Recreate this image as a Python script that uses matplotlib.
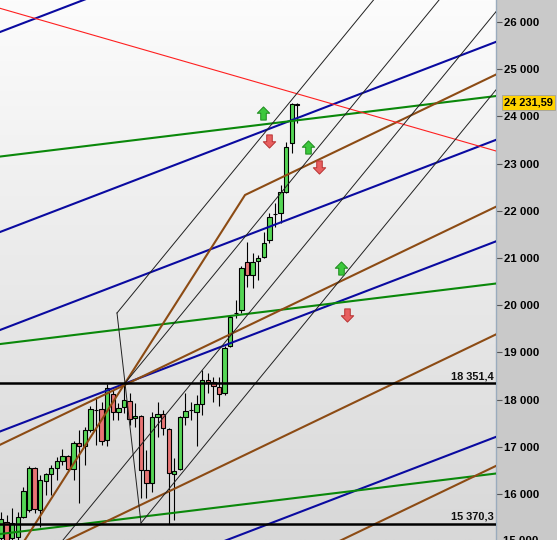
import matplotlib

matplotlib.use("Agg")

import matplotlib.pyplot as plt
import matplotlib.transforms as mtransforms
import numpy as np
from matplotlib.colors import LinearSegmentedColormap
from matplotlib.path import Path

# daily candles (index on x, price on y)
opens = [15068, 15407, 15068, 15089, 15513, 15661, 16551, 15661, 16276, 16424,
         16551, 16699, 16805, 16530, 17081, 17017, 17356, 17790, 17801, 17144,
         18119, 17737, 17843, 17970, 17610, 17653, 16509, 16233, 17631, 17695,
         17377, 16424, 16530, 17631, 17770, 17737, 17907, 18415, 18373, 18267,
         18140, 19136, 19845, 19898, 20915, 20640, 20936, 21021, 21381, 21940,
         21953, 22398, 23436, 24263]
highs = [15619, 15555, 15704, 15619, 16148, 16593, 16570, 16403, 16445, 16615,
         16784, 16954, 16820, 17123, 17356, 17420, 17865, 18055, 17949, 18331,
         18203, 17928, 18351, 18140, 17928, 17670, 16932, 17737, 17949, 17780,
         17390, 16763, 17653, 18140, 17949, 18098, 18627, 18564, 18479, 18479,
         19136, 19792, 20110, 20831, 21339, 21106, 21064, 21551, 21953, 22165,
         22547, 23458, 24284, 24284]
lows = [14920, 14920, 14920, 14983, 15492, 15619, 15598, 15301, 15979, 15979,
        16297, 16615, 16466, 16297, 15809, 16615, 17314, 17038, 17038, 17017,
        17568, 17568, 17716, 17462, 17420, 15915, 15915, 16043, 17208, 17250,
        15370, 15449, 16509, 17462, 17568, 17017, 17674, 18140, 17949, 17865,
        18098, 19114, 19729, 19835, 20386, 20364, 20534, 21000, 21318, 21657,
        21741, 22380, 23225, 23860]
closes = [15471, 15026, 15386, 15513, 16064, 16551, 15682, 16297, 16424, 16551,
          16699, 16805, 16530, 17081, 17017, 17356, 17801, 17790, 17123, 18246,
          17737, 17822, 17992, 17589, 17653, 16509, 16233, 17631, 17695, 17398,
          16445, 16487, 17631, 17759, 17770, 17907, 18415, 18373, 18288, 18119,
          19093, 19750, 19845, 20788, 20640, 20915, 21000, 21318, 21869, 21940,
          22398, 23352, 24263, 24231.59]
last_price = 24231.59

# horizontal levels
levels = [18351.4, 15370.3]
level_labels = ["18 351,4", "15 370,3"]

# trend channels: price at index 0 and slope per bar
blue_starts = [25796, 21559, 19483, 17333, 13191]
blue_slope = 45.4
green_starts = [23152, 19180, 15155]
green_slope = 14.45
brown_starts = [17053, 14348, 11562]
brown_slope = 56.85
brown_path_x = [0, 22.2, 43.65, 88.6]
brown_path_y = [14235, 18351, 22335, 24890]
red_start = 26284
red_slope = -34.07

# pitchfork: handle and parallel prongs
fork_handle_x = [20.75, 25.04]
fork_handle_y = [19835, 15386]
prong_x = [20.75, 22.2, 8.0, 25.04]
prong_y = [19835, 18351, 14579, 15386]
prong_slope = 144.5

# signal arrows
up_x = [46.9, 54.9, 60.8]
up_y = [24072, 23352, 20788]
down_x = [47.9, 56.9, 61.9]
down_y = [23479, 22928, 19792]

yticks = list(range(16000, 27000, 1000))

X0, X1 = -0.18, 88.55
Y0, Y1 = 15026, 26466

fig = plt.figure(figsize=(5.57, 5.40), dpi=100, facecolor="#c9c9c9")
ax = fig.add_axes([0, 0, 496 / 557, 1])

grad = LinearSegmentedColormap.from_list("bg", ["#fcfcfc", "#d8d8d8"])
ax.imshow(np.linspace(0, 1, 256).reshape(-1, 1), cmap=grad, aspect="auto",
          extent=[X0, X1, Y0, Y1], zorder=0)

idx = np.arange(len(opens))
o = np.array(opens)
c = np.array(closes)
colors = ["#55d655" if cc >= oo else "#e87474" for oo, cc in zip(o, c)]
ax.vlines(idx, lows, highs, color="black", lw=0.8, zorder=2)
ax.bar(idx, np.abs(c - o), bottom=np.minimum(o, c), width=0.78, color=colors,
       edgecolor="black", linewidth=0.8, zorder=3)

xe = np.array([X0, X1])
for p in blue_starts:
    ax.plot(xe, p + blue_slope * xe, color="#0a0aa0", lw=1.5, zorder=4)
for p in green_starts:
    ax.plot(xe, p + green_slope * xe, color="#0a880a", lw=1.5, zorder=4)
for p in brown_starts:
    ax.plot(xe, p + brown_slope * xe, color="#8c4b14", lw=1.5, zorder=4)
ax.plot(brown_path_x, brown_path_y, color="#8c4b14", lw=1.5, zorder=4)
ax.plot(xe, red_start + red_slope * xe, color="#ff2020", lw=0.8, zorder=4)

ax.plot(fork_handle_x, fork_handle_y, color="#202020", lw=0.7, zorder=4)
for px, py in zip(prong_x, prong_y):
    ax.plot([px, X1], [py, py + prong_slope * (X1 - px)], color="#202020",
            lw=0.7, zorder=4)

tr = mtransforms.blended_transform_factory(ax.transAxes, ax.transData)

for lvl, lab in zip(levels, level_labels):
    ax.axhline(lvl, color="black", lw=1.8, zorder=5)
    ax.text(0.996, lvl + 40, lab, transform=tr, ha="right", va="bottom",
            fontsize=7.9, fontweight="bold", family="Liberation Sans",
            color="#111111", zorder=6)

arrow_verts = [(0, 0.5), (0.47, 0.02), (0.21, 0.02), (0.21, -0.5), (-0.21, -0.5),
               (-0.21, 0.02), (-0.47, 0.02), (0, 0.5)]
up_marker = Path(arrow_verts, closed=True)
down_marker = Path([(vx, -vy) for vx, vy in arrow_verts], closed=True)
ax.plot(up_x, up_y, ls="none", marker=up_marker, ms=9.5, mfc="#3cc83c",
        mec="#1e8a1e", mew=0.7, zorder=7)
ax.plot(down_x, down_y, ls="none", marker=down_marker, ms=9.5, mfc="#e86060",
        mec="#b83232", mew=0.7, zorder=7)

ax.set_xlim(X0, X1)
ax.set_ylim(Y0, Y1)
ax.set_xticks([])
ax.yaxis.tick_right()
ax.set_yticks(yticks)
ax.set_yticklabels([f"{t:,}".replace(",", " ") for t in yticks])
ax.tick_params(axis="y", length=4, width=0.8, color="#555555", pad=2,
               labelsize=8.2, labelcolor="black")
for lab in ax.get_yticklabels():
    lab.set_fontweight("bold")
    lab.set_family("Liberation Sans")
for side in ["top", "bottom", "left"]:
    ax.spines[side].set_visible(False)
ax.spines["right"].set_color("#9aabbd")
ax.spines["right"].set_linewidth(1.0)

# bottom tick label, half cut by the figure edge as in the source chart
ax.text(1 + 7 / 496, 15000, "15 000", transform=tr, ha="left", va="center",
        fontsize=8.2, fontweight="bold", family="Liberation Sans", clip_on=False)
ax.text(1 + 8 / 496, last_price + 60, "24 231,59", transform=tr, ha="left", va="center",
        fontsize=7.9, fontweight="bold", family="Liberation Sans", clip_on=False,
        zorder=10, bbox=dict(boxstyle="square,pad=0.2", fc="#ffd200", ec="#a0a0a0", lw=0.6))

fig.savefig("out.png", dpi=100)
